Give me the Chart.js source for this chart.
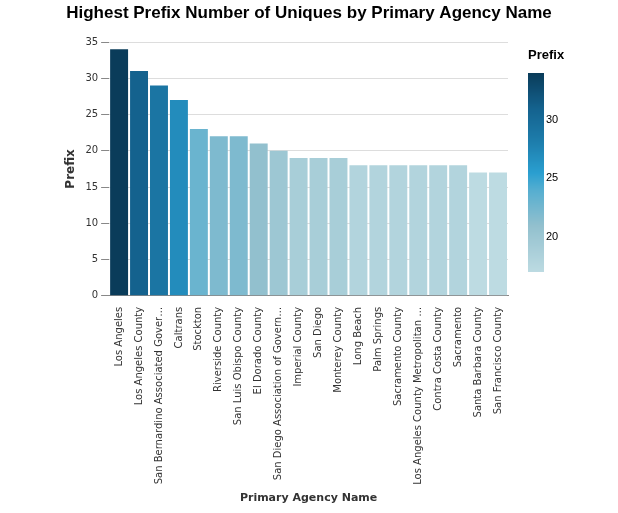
<!DOCTYPE html>
<html>
<head>
<meta charset="utf-8">
<script src="https://cdn.jsdelivr.net/npm/chart.js@4"></script>
<style>
  body { margin: 0; background: #fff; }
  #wrap { width: 618px; height: 513px; position: relative; }
</style>
</head>
<body>
<div id="wrap"><canvas id="myBarChart" width="618" height="513"></canvas></div>
<script>
// data
var agencies = ['Los Angeles', 'Los Angeles County', 'San Bernardino Associated Gover…', 'Caltrans', 'Stockton',
  'Riverside County', 'San Luis Obispo County', 'El Dorado County', 'San Diego Association of Govern…',
  'Imperial County', 'San Diego', 'Monterey County', 'Long Beach', 'Palm Springs', 'Sacramento County',
  'Los Angeles County Metropolitan …', 'Contra Costa County', 'Sacramento', 'Santa Barbara County', 'San Francisco County'];
var prefixValues = [34, 31, 29, 27, 23, 22, 22, 21, 20, 19, 19, 19, 18, 18, 18, 18, 18, 18, 17, 17];
var legendTicks = [20, 25, 30];

// colour ramp
var stops = [[17, [189, 219, 226]], [21, [146, 192, 206]], [24, [86, 174, 208]], [25.5, [42, 159, 208]],
  [28, [30, 127, 174]], [31, [20, 98, 142]], [34, [10, 60, 90]]];
function colorFor(v) {
  for (var i = 1; i < stops.length; i++) {
    if (v <= stops[i][0]) {
      var a = stops[i - 1], b = stops[i], t = (v - a[0]) / (b[0] - a[0]);
      var c = a[1].map(function (x, k) { return Math.round(x + (b[1][k] - x) * t); });
      return 'rgb(' + c.join(',') + ')';
    }
  }
  return 'rgb(' + stops[stops.length - 1][1].join(',') + ')';
}
var vMin = 17, vMax = 34;

// title + gradient legend plugin
var legendPlugin = {
  id: 'gradLegend',
  afterDraw: function (chart) {
    var ctx = chart.ctx, x = 528, w = 16, top = 73, bottom = 272;
    ctx.save();
    ctx.fillStyle = '#000';
    ctx.textBaseline = 'middle';
    ctx.textAlign = 'center';
    ctx.font = 'bold 17px sans-serif';
    ctx.fillText('Highest Prefix Number of Uniques by Primary Agency Name', 309, 13);
    ctx.textAlign = 'left';
    ctx.font = 'bold 13px sans-serif';
    ctx.fillText('Prefix', x, 55);
    for (var y = top; y < bottom; y++) {
      var v = vMax - (y - top) / (bottom - top) * (vMax - vMin);
      ctx.fillStyle = colorFor(v);
      ctx.fillRect(x, y, w, 1);
    }
    ctx.font = '11px sans-serif';
    ctx.fillStyle = '#000';
    legendTicks.forEach(function (t) {
      var y = top + (vMax - t) / (vMax - vMin) * (bottom - top);
      ctx.fillText(String(t), x + w + 2, y);
    });
    ctx.restore();
  }
};

var ctx = document.getElementById('myBarChart').getContext('2d');
var myBarChart = new Chart(ctx, {
  type: 'bar',
  data: {
    labels: agencies,
    datasets: [{
      label: 'Prefix',
      data: prefixValues,
      backgroundColor: prefixValues.map(colorFor),
      categoryPercentage: 1,
      barPercentage: 0.9
    }]
  },
  options: {
    responsive: false,
    animation: false,
    layout: { padding: { top: 42, right: 110, left: 60, bottom: 4 } },
    scales: {
      x: {
        grid: { display: false },
        border: { color: '#888' },
        ticks: { minRotation: 90, maxRotation: 90, autoSkip: false, color: '#333',
          font: { family: 'DejaVu Sans', size: 10 } },
        title: { display: true, text: 'Primary Agency Name', color: '#333',
          font: { family: 'DejaVu Sans', size: 11, weight: 'bold' } }
      },
      y: {
        min: 0, max: 35,
        ticks: { stepSize: 5, color: '#333', font: { family: 'DejaVu Sans', size: 10 } },
        grid: { color: '#ddd', tickColor: '#888' },
        border: { display: false },
        title: { display: true, text: 'Prefix', color: '#333',
          font: { family: 'DejaVu Sans', size: 12, weight: 'bold' } }
      }
    },
    plugins: {
      legend: { display: false },
      title: { display: false },
      tooltip: { enabled: true }
    }
  },
  plugins: [legendPlugin]
});
</script>
</body>
</html>
